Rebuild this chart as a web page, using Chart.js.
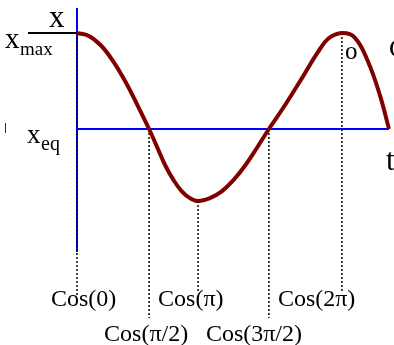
<!DOCTYPE html>
<html>
<head>
<meta charset="utf-8">
<script src="https://cdn.jsdelivr.net/npm/chart.js@4/dist/chart.umd.min.js"></script>
<style>
  body { margin: 0; background: #fff; }
  #wrap { width: 394px; height: 345px; }
</style>
</head>
<body>
<div id="wrap"><canvas id="oscChart" width="394" height="345"></canvas></div>
<script>
// displacement of the oscillator over time (x_eq = 0, x_max = 1)
const timeT = [0, 0.38, 0.77, 1.15, 1.54, 1.92, 2.31, 2.57, 2.83, 3.09, 3.36, 3.62, 3.88, 4.26, 4.64, 5.02, 5.39, 5.78, 6.15, 6.67, 7.21, 7.72, 8.05, 8.49, 8.91, 9.33, 9.71, 10];
const displacement = [1, 0.97, 0.87, 0.71, 0.5, 0.26, 0, -0.19, -0.38, -0.53, -0.65, -0.72, -0.75, -0.72, -0.65, -0.53, -0.38, -0.19, 0, 0.25, 0.53, 0.8, 0.94, 1.0, 0.95, 0.7, 0.35, 0];

// phase marks
const tickLabels = ['Cos(0)', 'Cos(\u03c0/2)', 'Cos(\u03c0)', 'Cos(3\u03c0/2)', 'Cos(2\u03c0)'];
const phaseT = [0, 2.31, 3.88, 6.15, 8.49];
const guideTop = [1, 0, -0.75, 0, 1];
const guideBottom = [-1.73, -1.97, -1.7, -1.97, -1.7];

const tEnd = 10;
const xMax = 1;

const curveColor = '#800000';
const axisBlue = '#0000ff';

const guideSets = phaseT.map((t, i) => ({
  data: [{ x: t, y: guideTop[i] }, { x: t, y: guideBottom[i] }],
  borderColor: '#000',
  borderWidth: 1.5,
  borderDash: [2, 2],
  pointRadius: 0,
  order: 2
}));

// label placement next to each guide line
const labelShift = [-26, -45, -40, -63, -64];
const labelBase = [306, 341, 306, 341, 306];

const textPlugin = {
  id: 'texts',
  afterDraw(chart) {
    const ctx = chart.ctx;
    const xs = chart.scales.x;
    const ys = chart.scales.y;
    ctx.save();
    ctx.fillStyle = '#000';
    ctx.textAlign = 'left';
    ctx.textBaseline = 'alphabetic';
    ctx.font = '24px "Liberation Serif"';
    tickLabels.forEach((lab, i) => {
      ctx.fillText(lab, xs.getPixelForValue(phaseT[i]) + labelShift[i], labelBase[i]);
    });

    const yTop = ys.getPixelForValue(xMax);
    const yEq = ys.getPixelForValue(0);
    // axis name
    ctx.font = '31px "Liberation Serif"';
    ctx.fillText('x', 49, 27);
    // x_max
    ctx.font = '29px "Liberation Serif"';
    ctx.fillText('x', 5, yTop + 15);
    ctx.font = '19px "Liberation Serif"';
    ctx.fillText('max', 20, yTop + 22);
    // x_eq
    ctx.font = '27px "Liberation Serif"';
    ctx.fillText('x', 27, yEq + 14);
    ctx.font = '20px "Liberation Serif"';
    ctx.fillText('eq', 41, yEq + 21);
    // time axis name
    ctx.font = '31px "Liberation Serif"';
    ctx.fillText('t', 386, yEq + 41);
    // stray marks
    ctx.font = '25px "Liberation Serif"';
    ctx.fillText('o', 345, 59);
    ctx.font = '26px "Liberation Serif"';
    ctx.fillText('C', 389, 57);
    ctx.fillStyle = curveColor;
    ctx.fillRect(5, 123, 1, 10);
    ctx.restore();
  }
};

new Chart(document.getElementById('oscChart').getContext('2d'), {
  type: 'line',
  data: {
    datasets: [
      {
        data: timeT.map((t, i) => ({ x: t, y: displacement[i] })),
        borderColor: curveColor,
        borderWidth: 4,
        tension: 0.4,
        pointRadius: 0,
        order: 0
      },
      ...guideSets,
      {
        data: [{ x: 0, y: 0 }, { x: tEnd, y: 0 }],
        borderColor: axisBlue,
        borderWidth: 2,
        pointRadius: 0,
        order: 3
      },
      {
        data: [{ x: 0, y: 1.26 }, { x: 0, y: -1.28 }],
        borderColor: axisBlue,
        borderWidth: 2,
        pointRadius: 0,
        order: 3
      },
      {
        data: [{ x: -1.57, y: xMax }, { x: 0, y: xMax }],
        borderColor: '#000',
        borderWidth: 2,
        pointRadius: 0,
        order: 1
      }
    ]
  },
  options: {
    responsive: false,
    animation: false,
    devicePixelRatio: 1,
    layout: { padding: 0 },
    plugins: { legend: { display: false }, tooltip: { enabled: false } },
    scales: {
      x: { type: 'linear', display: false, min: -2.468, max: 10.16 },
      y: { type: 'linear', display: false, min: -2.25, max: 1.344 }
    }
  },
  plugins: [textPlugin]
});
</script>
</body>
</html>
